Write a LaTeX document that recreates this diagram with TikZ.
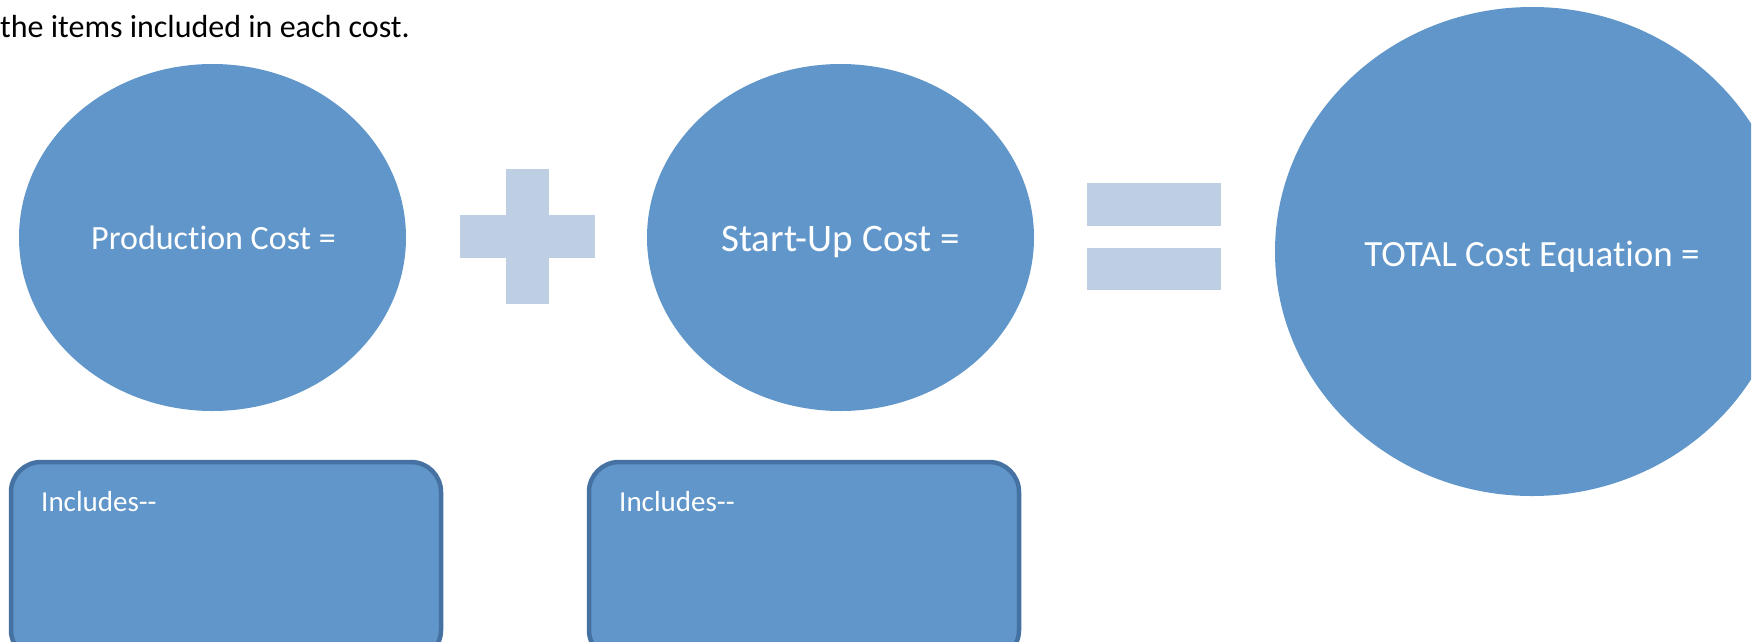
\documentclass[tikz,border=0pt]{standalone}
\usepackage{fontspec}
\setmainfont{Carlito}[Ligatures={TeX,NoCommon}]
\usetikzlibrary{shapes.geometric}
\definecolor{bubble}{RGB}{96,150,201}
\definecolor{signfill}{RGB}{190,206,227}
\definecolor{boxline}{RGB}{69,114,163}
\tikzset{
  bubble/.style={ellipse, fill=bubble, draw=none, inner sep=0pt},
  bubbletext/.style={text=white, inner sep=0pt},
  signbar/.style={fill=signfill, draw=none},
  listbox/.style={fill=bubble, draw=boxline, line width=4.5pt, rounded corners=30pt},
  boxtext/.style={anchor=base west, inner sep=0pt, text=white, font=\fontsize{29}{34}\selectfont},
}
\begin{document}
\begin{tikzpicture}[x=1pt, y=-1pt]
  \useasboundingbox (0,0) rectangle (1754,641);
  \clip (0,0) rectangle (1751,641);

  % instruction line
  \node[anchor=base west, inner sep=0pt, font=\fontsize{32}{38}\selectfont] (caption) at (0,37) {the items included in each cost.};

  % cost bubbles
  \node[bubble, minimum width=387pt, minimum height=347pt] (prod) at (212.5,237.5) {};
  \node[bubble, minimum width=387pt, minimum height=347pt] (start) at (840.5,237.5) {};
  \node[bubble, minimum width=514pt, minimum height=489pt] (total) at (1532,251.5) {};
  \node[bubbletext, font=\fontsize{34}{40}\selectfont] (prodtext) at ([xshift=1pt]prod.center) {Production Cost =};
  \node[bubbletext, font=\fontsize{39}{46}\selectfont] (starttext) at ([yshift=-4.5pt]start.center) {Start-Up Cost =};
  \node[bubbletext, font=\fontsize{37}{44}\selectfont] (totaltext) at ([yshift=-5pt]total.center) {TOTAL Cost Equation =};

  % plus sign
  \fill[signbar] (506,169) rectangle (549,304);
  \fill[signbar] (460,215) rectangle (595,258);
  % equals sign
  \fill[signbar] (1087,183) rectangle (1221,226);
  \fill[signbar] (1087,248) rectangle (1221,290);

  % lists of included items
  \draw[listbox] (11,462) rectangle (441,660);
  \draw[listbox] (589,462) rectangle (1019,660);
  \node[boxtext] (inc1) at (41,511) {Includes{-}{-}};
  \node[boxtext] (inc2) at (619,511) {Includes{-}{-}};
\end{tikzpicture}
\end{document}
